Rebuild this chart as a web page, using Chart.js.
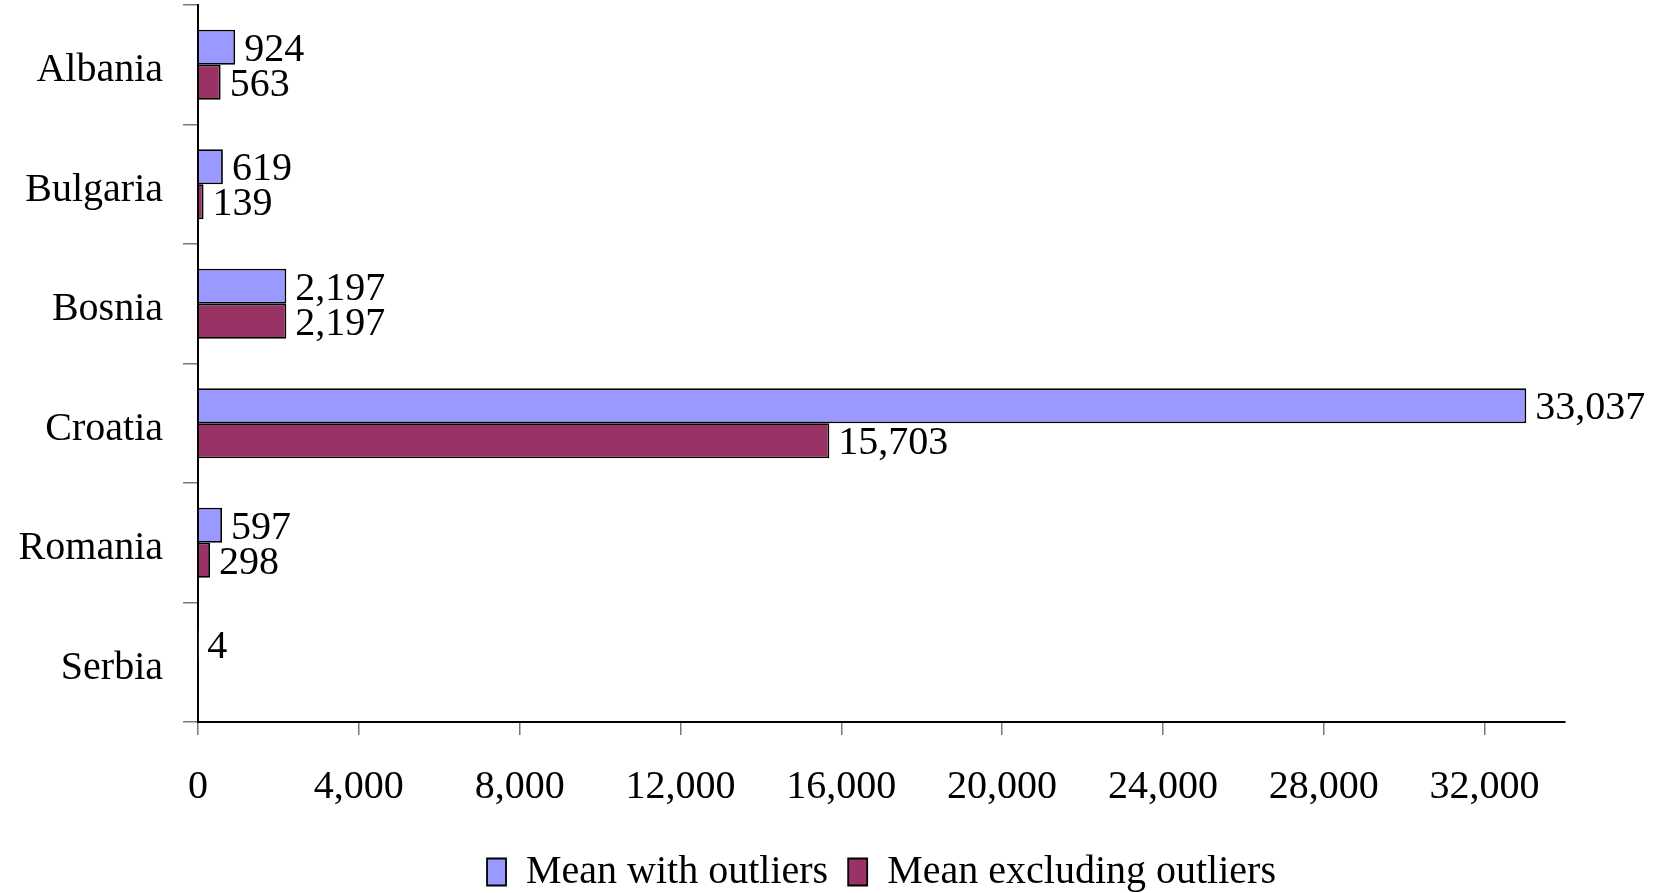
<!DOCTYPE html>
<html>
<head>
<meta charset="utf-8">
<script src="https://cdn.jsdelivr.net/npm/chart.js@4"></script>
<style>
  html, body { margin: 0; padding: 0; background: #fff; }
  #wrap { width: 1673px; height: 893px; }
</style>
</head>
<body>
<div id="wrap"><canvas id="myChart" width="1673" height="893"></canvas></div>
<script>
const countries = ['Albania', 'Bulgaria', 'Bosnia', 'Croatia', 'Romania', 'Serbia'];
const meanWithOutliers = [924, 619, 2197, 33037, 597, 4];
const meanExcludingOutliers = [563, 139, 2197, 15703, 298, null];
const xTicks = [0, 4000, 8000, 12000, 16000, 20000, 24000, 28000, 32000];

const serif = '"Liberation Serif", "Times New Roman", serif';

// etiquetas de valor al final de cada barra
const valueLabels = {
    id: 'valueLabels',
    afterDatasetsDraw(chart) {
        const ctx = chart.ctx;
        ctx.save();
        ctx.font = '40px ' + serif;
        ctx.fillStyle = '#000';
        ctx.textAlign = 'left';
        ctx.textBaseline = 'middle';
        chart.data.datasets.forEach((ds, i) => {
            const meta = chart.getDatasetMeta(i);
            meta.data.forEach((bar, j) => {
                const v = ds.data[j];
                if (v === null || v === undefined) return;
                ctx.fillText(v.toLocaleString('en-US'), bar.x + 9, bar.y + 3);
            });
        });
        ctx.restore();
    }
};

new Chart(document.getElementById('myChart').getContext('2d'), {
    type: 'bar',
    data: {
        labels: countries,
        datasets: [{
            label: 'Mean with outliers',
            data: meanWithOutliers,
            backgroundColor: '#9999FF',
            borderColor: '#000',
            borderWidth: 1.8
        }, {
            label: 'Mean excluding outliers',
            data: meanExcludingOutliers,
            backgroundColor: '#993366',
            borderColor: '#000',
            borderWidth: 1.8
        }]
    },
    options: {
        indexAxis: 'y',
        responsive: false,
        animation: false,
        datasets: {
            bar: { categoryPercentage: 0.586, barPercentage: 1 }
        },
        layout: { padding: { top: 5, right: 0, bottom: -9, left: 0 } },
        plugins: {
            legend: {
                position: 'bottom',
                fullSize: false,
                labels: {
                    font: { family: serif, size: 40 },
                    color: '#000',
                    boxWidth: 19,
                    boxHeight: 27,
                    padding: 20
                }
            },
            tooltip: { enabled: false }
        },
        scales: {
            x: {
                min: 0,
                max: 34000,
                afterBuildTicks(scale) {
                    scale.ticks = xTicks.map(v => ({ value: v }));
                },
                afterFit(scale) {
                    scale.height = 110;
                    scale.paddingRight = 108;
                },
                grid: { drawOnChartArea: false, tickLength: 13, color: '#777', lineWidth: 1.5 },
                border: { color: '#000', width: 2 },
                ticks: {
                    font: { family: serif, size: 40 },
                    color: '#000',
                    padding: 28,
                    maxRotation: 0,
                    callback: v => v.toLocaleString('en-US')
                }
            },
            y: {
                afterFit(scale) {
                    scale.width = 198;
                    scale.paddingTop = 0;
                    scale.paddingBottom = 0;
                },
                grid: { drawOnChartArea: false, tickLength: 15, color: '#777', lineWidth: 1.5 },
                border: { color: '#000', width: 2 },
                ticks: {
                    font: { family: serif, size: 40 },
                    color: '#000',
                    padding: 20,
                    labelOffset: 6
                }
            }
        }
    },
    plugins: [valueLabels]
});
</script>
</body>
</html>
